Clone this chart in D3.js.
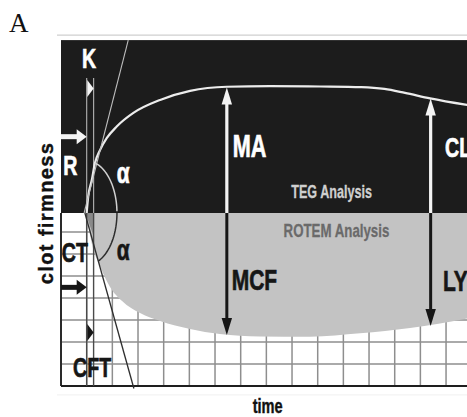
<!DOCTYPE html>
<html>
<head>
<meta charset="utf-8">
<script src="https://cdn.jsdelivr.net/npm/d3@7"></script>
<style>
  html, body { margin: 0; padding: 0; background: #fff; }
  svg { display: block; }
</style>
</head>
<body>
<div id="chart"></div>
<script>
// Traces in grid units: time = grid columns, amplitude = rows above/below the baseline
const tegTime = [1.00, 1.06, 1.20, 1.32, 1.52, 1.78, 2.17, 2.82, 3.86, 5.03, 6.46, 8.14, 10.09, 11.70, 12.60, 13.40, 14.38, 15.82];
const tegAmp = [0, 0.74, 1.50, 2.26, 2.86, 3.40, 3.93, 4.55, 5.14, 5.55, 5.74, 5.77, 5.75, 5.72, 5.64, 5.46, 5.21, 4.91];
const rotemTime = [1.00, 1.17, 1.52, 1.91, 2.38, 3.08, 3.86, 5.03, 6.19, 7.75, 9.70, 11.65, 13.60, 15.82];
const rotemAmp = [0, -1.23, -2.41, -3.36, -4.00, -4.55, -4.91, -5.27, -5.50, -5.61, -5.62, -5.47, -5.23, -4.79];

// Reaction / kinetics markers (time)
const rTime = 1.00;
const kTime = 1.27;

// Measurement arrows: time and amplitude reached
const measureTime = [6.46, 14.40];
const tegMeasure = ['MA', 'CL'];
const tegMeasureAmp = [5.71, 5.21];
const rotemMeasure = ['MCF', 'LY'];
const rotemMeasureAmp = [-5.55, -5.14];

// Alpha angle tangents (time, amplitude) pairs
const tegTangent = [[0.90, 0], [2.62, 7.86]];
const rotemTangent = [[0.93, 0], [2.84, -7.98]];

const width = 467;
const height = 417;
const gridCols = 16;
const gridRows = 7.86;

const svg = d3.select('#chart')
  .append('svg')
  .attr('width', width)
  .attr('height', height);

const x = d3.scaleLinear().domain([0, gridCols]).range([61, 61 + gridCols * 25.67]);
const y = d3.scaleLinear().domain([-gridRows, gridRows]).range([385.9, 40.1]);

const font = '"Liberation Sans", Arial, sans-serif';

// Top rule
svg.append('line')
  .attr('x1', 57).attr('x2', width)
  .attr('y1', y(gridRows) - 5).attr('y2', y(gridRows) - 5)
  .attr('stroke', '#cfcfcf').attr('stroke-width', 1.2);

// Lower grid (ROTEM paper)
const grid = svg.append('g');
grid.append('rect')
  .attr('x', x(0)).attr('y', y(0))
  .attr('width', x(gridCols) - x(0)).attr('height', y(-gridRows) - y(0))
  .attr('fill', '#fff');
grid.selectAll('.vgrid')
  .data(d3.range(1, gridCols))
  .enter().append('line')
  .attr('class', 'vgrid')
  .attr('x1', d => x(d)).attr('x2', d => x(d))
  .attr('y1', y(0)).attr('y2', y(-gridRows))
  .attr('stroke', '#8e8e8e').attr('stroke-width', 1.5);
grid.selectAll('.hgrid')
  .data(d3.range(1, 8).map(k => -gridRows + k))
  .enter().append('line')
  .attr('class', 'hgrid')
  .attr('x1', x(0)).attr('x2', x(gridCols))
  .attr('y1', d => y(d)).attr('y2', d => y(d))
  .attr('stroke', '#8e8e8e').attr('stroke-width', 1.5);

// ROTEM filled trace
const rotem = rotemTime.map((t, i) => ({ t, a: rotemAmp[i] }));
svg.append('path')
  .datum(rotem)
  .attr('d', d3.area().x(d => x(d.t)).y0(y(0)).y1(d => y(d.a)).curve(d3.curveMonotoneX))
  .attr('fill', '#c3c3c3');

// small darker wedge at clot start
svg.append('path')
  .attr('d', d3.line()([[x(0.95), y(0)], [x(kTime), y(0)], [x(kTime), y(-1.05)]]))
  .attr('fill', '#8a8a8a');

// frame of the lower part
svg.append('line')
  .attr('x1', x(0)).attr('x2', x(0)).attr('y1', y(0)).attr('y2', y(-gridRows))
  .attr('stroke', '#2a2a2a').attr('stroke-width', 2);
svg.append('line')
  .attr('x1', x(0)).attr('x2', width).attr('y1', y(-gridRows)).attr('y2', y(-gridRows))
  .attr('stroke', '#1e1e1e').attr('stroke-width', 2);
svg.append('line')
  .attr('x1', 57).attr('x2', width).attr('y1', y(-gridRows) + 9).attr('y2', y(-gridRows) + 9)
  .attr('stroke', '#f0f0f0').attr('stroke-width', 1);

// TEG dark panel
svg.append('rect')
  .attr('x', x(0)).attr('y', y(gridRows))
  .attr('width', x(gridCols) - x(0)).attr('height', y(0) - y(gridRows))
  .attr('fill', '#1c1c1c');

// R and K lines
[rTime, kTime].forEach(t => {
  svg.append('line')
    .attr('x1', x(t)).attr('x2', x(t)).attr('y1', y(6.14)).attr('y2', y(0))
    .attr('stroke', '#a8a8a8').attr('stroke-width', 1.2);
  svg.append('line')
    .attr('x1', x(t)).attr('x2', x(t)).attr('y1', y(0)).attr('y2', y(-gridRows))
    .attr('stroke', '#4a4a4a').attr('stroke-width', 1.4);
});

// TEG trace
const teg = tegTime.map((t, i) => ({ t, a: tegAmp[i] }));
svg.append('path')
  .datum(teg)
  .attr('d', d3.line().x(d => x(d.t)).y(d => y(d.a)).curve(d3.curveMonotoneX))
  .attr('fill', 'none')
  .attr('stroke', '#ececec')
  .attr('stroke-width', 2.2);

// tangents
svg.append('line')
  .attr('x1', x(tegTangent[0][0])).attr('y1', y(tegTangent[0][1]))
  .attr('x2', x(tegTangent[1][0])).attr('y2', y(tegTangent[1][1]))
  .attr('stroke', '#bdbdbd').attr('stroke-width', 1.1);
svg.append('line')
  .attr('x1', x(rotemTangent[0][0])).attr('y1', y(rotemTangent[0][1]))
  .attr('x2', x(rotemTangent[1][0])).attr('y2', y(rotemTangent[1][1]))
  .attr('stroke', '#2e2e2e').attr('stroke-width', 1.3);

// alpha arcs (ellipse round the clot start)
const arcCenter = [1.01, 0];
const arcRx = 1.17;
const arcRy = 2.36;
const arcLine = d3.line().x(d => x(arcCenter[0] + arcRx * Math.cos(d))).y(d => y(arcCenter[1] + arcRy * Math.sin(d)));
const deg = Math.PI / 180;
svg.append('path')
  .attr('d', arcLine(d3.range(74.5, -0.1, -2.5).map(a => a * deg)))
  .attr('fill', 'none').attr('stroke', '#d0d0d0').attr('stroke-width', 1.5);
svg.append('path')
  .attr('d', arcLine(d3.range(0, -68.6, -2.5).map(a => a * deg)))
  .attr('fill', 'none').attr('stroke', '#2e2e2e').attr('stroke-width', 1.5);

// vertical arrows
function vArrow(t, a0, a1, color, shaftW) {
  const px = x(t), p0 = y(a0), p1 = y(a1);
  const dir = p1 < p0 ? -1 : 1;
  const headL = 17, headW = 5.2;
  svg.append('line')
    .attr('x1', px).attr('x2', px).attr('y1', p0).attr('y2', p1 - dir * headL + dir)
    .attr('stroke', color).attr('stroke-width', shaftW);
  svg.append('path')
    .attr('d', d3.line()([[px, p1], [px - headW, p1 - dir * headL], [px + headW, p1 - dir * headL]]) + 'Z')
    .attr('fill', color);
}
measureTime.forEach((t, i) => {
  vArrow(t, 0, rotemMeasureAmp[i], '#161616', 3);
  vArrow(t, 0, tegMeasureAmp[i], '#f4f4f4', 3.2);
});

// horizontal arrows for R and CT
function hArrow(a, color) {
  const py = y(a), x0 = x(0), x1 = x(rTime);
  svg.append('line')
    .attr('x1', x0).attr('x2', x1 - 9).attr('y1', py).attr('y2', py)
    .attr('stroke', color).attr('stroke-width', 5);
  svg.append('path')
    .attr('d', d3.line()([[x1, py], [x1 - 10, py - 7.5], [x1 - 10, py + 7.5]]) + 'Z')
    .attr('fill', color);
}
hArrow(3.47, '#f4f4f4');
hArrow(-3.38, '#161616');

// K and CFT wedges between R and K lines
function wedge(a, color) {
  const py = y(a);
  svg.append('path')
    .attr('d', d3.line()([[x(rTime) + 0.6, py - 8.5], [x(kTime), py], [x(rTime) + 0.6, py + 8.5]]) + 'Z')
    .attr('fill', color);
}
wedge(5.66, '#f4f4f4');
wedge(-5.43, '#161616');

// labels
const labels = [
  { text: 'K', t: 1.09, a: 6.58, size: 28, color: '#ffffff', anchor: 'middle' },
  { text: 'R', t: 0.09, a: 1.73, size: 28, color: '#ffffff', anchor: 'start' },
  { text: 'α', t: 2.42, a: 1.35, size: 30, color: '#ffffff', anchor: 'middle' },
  { text: 'CT', t: 0.03, a: -2.21, size: 28, color: '#161616', anchor: 'start' },
  { text: 'α', t: 2.42, a: -2.14, size: 30, color: '#161616', anchor: 'middle' },
  { text: 'CFT', t: 1.21, a: -7.44, size: 28, color: '#161616', anchor: 'middle' },
  { text: 'MA', t: 6.69, a: 2.56, size: 31, color: '#ffffff', anchor: 'start' },
  { text: 'MCF', t: 6.65, a: -3.5, size: 30, color: '#161616', anchor: 'start' },
  { text: 'CL', t: 14.96, a: 2.56, size: 28, color: '#ffffff', anchor: 'start' },
  { text: 'LY', t: 14.88, a: -3.55, size: 30, color: '#161616', anchor: 'start' },
  { text: 'TEG Analysis', t: 10.54, a: 0.67, size: 18, color: '#cfcfcf', anchor: 'middle' },
  { text: 'ROTEM Analysis', t: 10.73, a: -1.08, size: 19, color: '#6a6a6a', anchor: 'middle' }
];
svg.selectAll('.label')
  .data(labels)
  .enter().append('text')
  .attr('class', 'label')
  .attr('transform', d => `translate(${x(d.t)},${y(d.a)}) scale(0.7,1)`)
  .attr('text-anchor', d => d.anchor)
  .attr('font-family', font)
  .attr('font-weight', 'bold')
  .attr('font-size', d => d.size)
  .attr('fill', d => d.color)
  .attr('stroke', d => d.color)
  .attr('stroke-width', d => d.size > 20 ? 0.7 : 0.3)
  .text(d => d.text);

// axis titles
svg.append('text')
  .attr('transform', `translate(${x(8.05)},413) scale(0.73,1)`)
  .attr('text-anchor', 'middle')
  .attr('font-family', font)
  .attr('font-weight', 'bold')
  .attr('font-size', 20)
  .attr('fill', '#111')
  .attr('stroke', '#111')
  .attr('stroke-width', 0.4)
  .text('time');

svg.append('text')
  .attr('transform', `translate(53,${y(0)}) rotate(-90)`)
  .attr('text-anchor', 'middle')
  .attr('font-family', font)
  .attr('font-weight', 'bold')
  .attr('font-size', 20)
  .attr('letter-spacing', 1.4)
  .attr('fill', '#111')
  .attr('stroke', '#111')
  .attr('stroke-width', 0.4)
  .text('clot firmness');

// panel letter
svg.append('text')
  .attr('x', 9).attr('y', 32)
  .attr('font-family', '"Liberation Serif", "Times New Roman", serif')
  .attr('font-size', 27)
  .attr('fill', '#111')
  .text('A');
</script>
</body>
</html>
